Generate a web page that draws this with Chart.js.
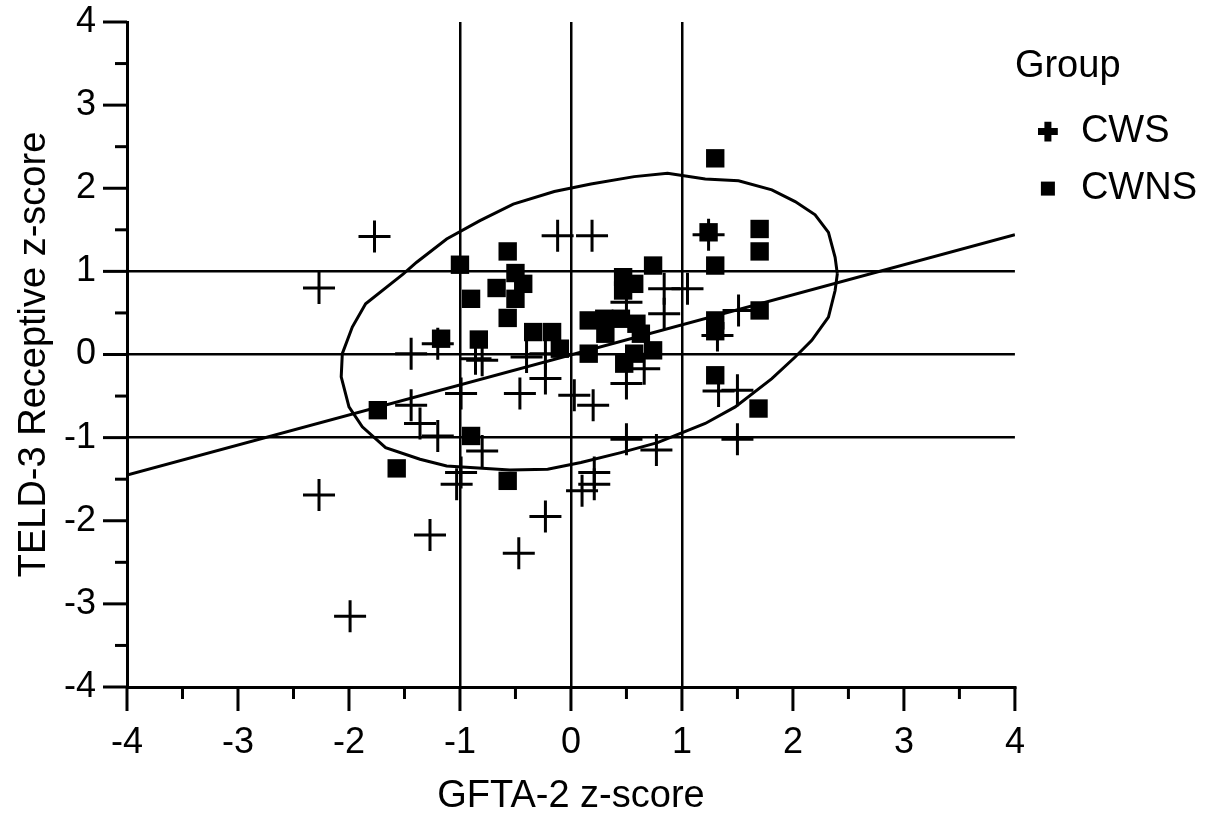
<!DOCTYPE html>
<html>
<head>
<meta charset="utf-8">
<script src="https://cdn.jsdelivr.net/npm/chart.js@4/dist/chart.umd.min.js"></script>
<style>
  html, body { margin: 0; padding: 0; background: #fff; }
  #wrap { width: 1207px; height: 819px; }
</style>
</head>
<body>
<div id="wrap"><canvas id="zChart"></canvas></div>
<script>
/* z-scores, one pair per child */
var cwsX = [-1.77, -2.27, -1.44, -2.27, -1.99, -1.27, -0.47, -0.23, -0.99, -1.03,
            -0.12, 0.19, -1.20, -0.86, -0.80, -0.40, -0.23, -0.46, -0.99, 0.03,
            -1.44, -1.36, -1.20, -0.80, 0.20, 0.50, 0.66, 0.50, 0.77, 0.21,
            0.21, 0.10, 1.33, 1.50, 1.50, 1.24, 0.84, 1.05, 0.50, 0.84,
            1.51, 1.32, -0.23];
var cwsY = [1.42, 0.80, 0.01, -1.69, -3.15, -2.17, -2.39, -1.95, -1.42, -1.56,
            1.43, 1.43, 0.13, -0.05, -0.07, -0.03, -0.29, -0.47, -0.47, -0.49,
            -0.61, -0.83, -0.98, -1.16, -0.61, -0.35, -0.17, -1.02, -1.15, -1.42,
            -1.56, -1.64, -0.44, -0.43, -1.02, 1.44, 0.79, 0.79, 0.63, 0.49,
            0.53, 0.23, 0.01];

var cwnsX = [-1.00, -0.57, -0.50, -0.67, -0.43, -0.50, -0.90, -0.57, -0.34, -0.17,
             -0.10, -1.17, -0.83, -1.74, -1.57, -0.90, -0.57, 0.16, 0.16, 0.30,
             0.45, 0.59, 0.31, 0.63, 0.47, 0.57, 0.47, 0.74, 0.48, 0.57,
             0.74, 1.30, 1.24, 1.70, 1.70, 1.30, 1.70, 1.30, 1.30, 1.30,
             1.69];
var cwnsY = [1.08, 1.24, 0.98, 0.80, 0.85, 0.67, 0.67, 0.44, 0.27, 0.27,
             0.07, 0.19, 0.18, -0.67, -1.37, -0.98, -1.52, 0.01, 0.41, 0.43,
             0.43, 0.37, 0.25, 0.25, 0.93, 0.85, 0.77, 1.07, -0.11, 0.01,
             0.05, 2.36, 1.47, 1.51, 1.24, 1.07, 0.53, 0.41, 0.28, -0.25,
             -0.65];

/* density ellipse outline */
var ellipseX = [2.40, 2.38, 2.32, 2.20, 2.02, 1.81, 1.51, 1.21, 0.87, 0.57,
                0.18, -0.15, -0.52, -0.82, -1.12, -1.39, -1.51, -1.85, -1.97, -2.06,
                -2.07, -2.00, -1.88, -1.67, -1.36, -1.12, -0.55, -0.21, 0.09, 0.45,
                0.78, 1.21, 1.48, 1.81, 2.02, 2.17, 2.32, 2.38, 2.40];
var ellipseY = [0.97, 1.17, 1.47, 1.68, 1.84, 1.98, 2.09, 2.11, 2.18, 2.14,
                2.05, 1.96, 1.81, 1.61, 1.39, 1.11, 0.97, 0.61, 0.33, 0.01,
                -0.27, -0.63, -0.87, -1.12, -1.26, -1.34, -1.39, -1.38, -1.30, -1.18,
                -1.06, -0.83, -0.63, -0.29, -0.03, 0.17, 0.45, 0.77, 0.97];

/* fit line */
var fitX = [-4, 4];
var fitY = [-1.45, 1.44];

var axisMin = -4, axisMax = 4;
var refLines = [-1, 0, 1];

function pairs(xs, ys) {
  var out = [];
  for (var i = 0; i < xs.length; i++) out.push({ x: xs[i], y: ys[i] });
  return out;
}

Chart.defaults.font.family = "'Liberation Sans', Arial, sans-serif";
Chart.defaults.color = '#000';

// outward tick marks, long on whole numbers, short on halves
var tickMarks = {
  id: 'tickMarks',
  afterDraw: function (chart) {
    var ctx = chart.ctx;
    ctx.save();
    ctx.strokeStyle = '#000';
    ctx.lineWidth = 3;
    var xs = chart.scales.x, ys = chart.scales.y;
    xs.ticks.forEach(function (t) {
      var px = xs.getPixelForValue(t.value);
      var len = Number.isInteger(t.value) ? 24 : 12;
      ctx.beginPath();
      ctx.moveTo(px, xs.top);
      ctx.lineTo(px, xs.top + len);
      ctx.stroke();
    });
    ys.ticks.forEach(function (t) {
      var py = ys.getPixelForValue(t.value);
      var len = Number.isInteger(t.value) ? 24 : 12;
      ctx.beginPath();
      ctx.moveTo(ys.right, py);
      ctx.lineTo(ys.right - len, py);
      ctx.stroke();
    });
    ctx.restore();
  }
};

function refColor(c) {
  return refLines.indexOf(c.tick.value) >= 0 ? '#000' : 'rgba(0,0,0,0)';
}

var ctx = document.getElementById('zChart').getContext('2d');
var chart = new Chart(ctx, {
  type: 'scatter',
  data: {
    datasets: [
      {
        label: 'CWS',
        data: pairs(cwsX, cwsY),
        pointStyle: 'cross',
        pointRadius: 16,
        pointHoverRadius: 16,
        borderWidth: 3,
        borderColor: '#000',
        backgroundColor: '#000'
      },
      {
        label: 'CWNS',
        data: pairs(cwnsX, cwnsY),
        pointStyle: 'rect',
        pointRadius: 13,
        pointHoverRadius: 13,
        borderWidth: 0,
        borderColor: '#000',
        backgroundColor: '#000'
      },
      {
        label: 'ellipse',
        type: 'line',
        data: pairs(ellipseX, ellipseY),
        borderColor: '#000',
        borderWidth: 3,
        pointRadius: 0,
        tension: 0,
        fill: false
      },
      {
        label: 'fit',
        type: 'line',
        data: pairs(fitX, fitY),
        borderColor: '#000',
        borderWidth: 3,
        pointRadius: 0,
        fill: false
      }
    ]
  },
  options: {
    responsive: true,
    maintainAspectRatio: false,
    animation: false,
    layout: { padding: { top: 22, right: 0, bottom: 0, left: 0 } },
    plugins: {
      tooltip: { enabled: false },
      legend: {
        position: 'right',
        align: 'start',
        maxWidth: 195,
        title: {
          display: true,
          text: 'Group',
          position: 'start',
          color: '#000',
          font: { size: 38 },
          padding: { top: 26, bottom: 0 }
        },
        labels: {
          usePointStyle: true,
          boxWidth: 28,
          boxHeight: 14,
          padding: 19,
          color: '#000',
          font: { size: 38 },
          generateLabels: function (chart) {
            return [
              { text: 'CWS', pointStyle: 'cross', fillStyle: '#000', strokeStyle: '#000', lineWidth: 7, datasetIndex: 0, fontColor: '#000' },
              { text: 'CWNS', pointStyle: 'rect', fillStyle: '#000', strokeStyle: '#000', lineWidth: 0, datasetIndex: 1, fontColor: '#000' }
            ];
          }
        }
      }
    },
    scales: {
      x: {
        type: 'linear',
        min: axisMin,
        max: axisMax,
        afterFit: function (s) { s.height = 132; s.paddingLeft = 0; s.paddingRight = 0; },
        border: { display: true, color: '#000', width: 3 },
        grid: { color: refColor, lineWidth: 2.5, drawTicks: false },
        ticks: {
          stepSize: 0.5,
          padding: 34,
          font: { size: 36 },
          color: '#000',
          maxRotation: 0,
          autoSkip: false,
          callback: function (v) { return Number.isInteger(v) ? String(v) : ''; }
        },
        title: {
          display: true,
          text: 'GFTA-2 z-score',
          font: { size: 38 },
          color: '#000',
          padding: { top: 0, bottom: 0 }
        }
      },
      y: {
        type: 'linear',
        min: axisMin,
        max: axisMax,
        afterFit: function (s) { s.width = 127; s.paddingTop = 0; s.paddingBottom = 0; },
        border: { display: true, color: '#000', width: 3 },
        grid: { color: refColor, lineWidth: 2.5, drawTicks: false },
        ticks: {
          stepSize: 0.5,
          padding: 31,
          font: { size: 36 },
          color: '#000',
          autoSkip: false,
          callback: function (v) { return Number.isInteger(v) ? String(v) : ''; }
        },
        title: {
          display: true,
          text: 'TELD-3 Receptive z-score',
          font: { size: 38 },
          color: '#000',
          padding: { top: 12, bottom: 0 }
        }
      }
    }
  },
  plugins: [tickMarks]
});
</script>
</body>
</html>
